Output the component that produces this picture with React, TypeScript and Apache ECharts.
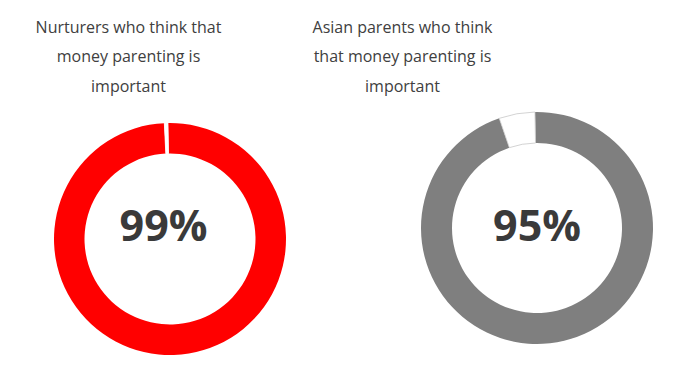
import React, { useEffect, useRef } from "react";
import * as echarts from "echarts";

const titles = [
  "Nurturers who think that\nmoney parenting is\nimportant",
  "Asian parents who think\nthat money parenting is\nimportant",
];
const percentLabels = ["99%", "95%"];
// [share that agrees, remaining gap] as drawn in each ring
const leftRing = [99.5, 0.5];
const rightRing = [95, 5];
const ringColors = ["#FF0000", "#7F7F7F"];
const gapBorders = ["#FFFFFF", "#C8C8C8"];

export default function App() {
  const ref = useRef<HTMLDivElement>(null);
  useEffect(() => {
    if (!ref.current) return;
    const chart = echarts.init(ref.current, undefined, { renderer: "svg" });
    const ring = (
      vals: number[],
      color: string,
      gapBorder: string,
      center: [number, number],
      radius: [number, number]
    ) => ({
      type: "pie",
      center,
      radius,
      startAngle: 91,
      clockwise: true,
      silent: true,
      label: { show: false },
      labelLine: { show: false },
      emphasis: { disabled: true },
      data: [
        { value: vals[0], itemStyle: { color } },
        { value: vals[1], itemStyle: { color: "#FFFFFF", borderColor: gapBorder, borderWidth: 0.8 } },
      ],
    });
    const titleStyle = {
      fontFamily: "Open Sans",
      fontSize: 16,
      fontWeight: "normal",
      color: "#404040",
      lineHeight: 29.5,
    };
    const pctStyle = { fontFamily: "Open Sans", fontSize: 43, fontWeight: "bold", color: "#3a3a3a" };
    chart.setOption({
      animation: false,
      backgroundColor: "#FFFFFF",
      title: [
        { text: titles[0], left: 128.5, top: 12, padding: 0, textAlign: "center", textStyle: titleStyle },
        { text: titles[1], left: 402.5, top: 12, padding: 0, textAlign: "center", textStyle: titleStyle },
        { text: percentLabels[0], left: 163.5, top: 203, padding: 0, textAlign: "center", textStyle: pctStyle },
        { text: percentLabels[1], left: 537, top: 203, padding: 0, textAlign: "center", textStyle: pctStyle },
      ],
      series: [
        ring(leftRing, ringColors[0], gapBorders[0], [170, 239], [85.5, 116]),
        ring(rightRing, ringColors[1], gapBorders[1], [537, 228], [85, 116]),
      ],
    });
    return () => chart.dispose();
  }, []);
  return (
    <div
      ref={ref}
      style={{ position: "fixed", left: 0, top: 0, width: 694, height: 371, background: "#fff" }}
    />
  );
}
